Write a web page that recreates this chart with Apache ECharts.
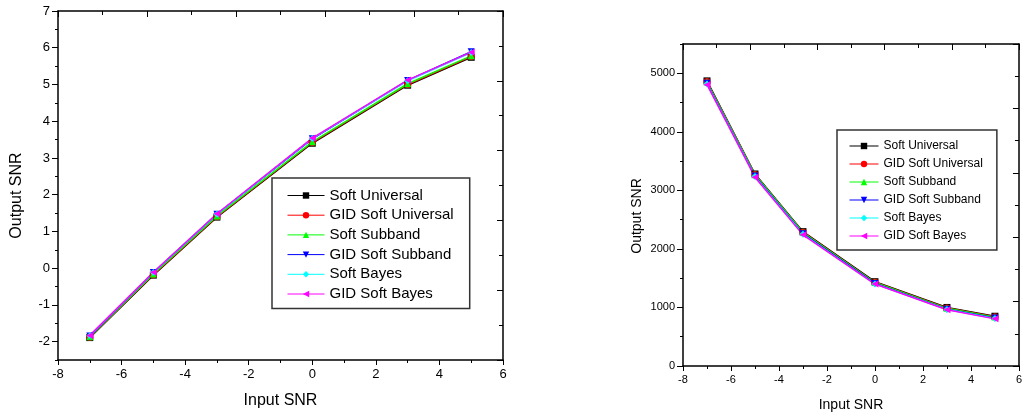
<!DOCTYPE html>
<html>
<head>
<meta charset="utf-8">
<title>Output SNR vs Input SNR</title>
<script src="https://cdn.jsdelivr.net/npm/echarts@6/dist/echarts.min.js"></script>
<style>
  html, body { margin: 0; padding: 0; background: #fff; }
  #chart { width: 1025px; height: 419px; }
</style>
</head>
<body>
<div id="chart"></div>
<script>
const inputSnr = [-7, -5, -3, 0, 3, 5]
const seriesNames = ['Soft Universal', 'GID Soft Universal', 'Soft Subband', 'GID Soft Subband', 'Soft Bayes', 'GID Soft Bayes']

// left plot (output SNR, dB)
const softUniversalL = [-1.89, -0.19, 1.39, 3.40, 4.98, 5.74]
const gidSoftUniversalL = [-1.88, -0.18, 1.40, 3.42, 5.00, 5.76]
const softSubbandL = [-1.87, -0.16, 1.42, 3.44, 5.02, 5.78]
const gidSoftSubbandL = [-1.85, -0.12, 1.47, 3.52, 5.11, 5.89]
const softBayesL = [-1.84, -0.12, 1.47, 3.53, 5.10, 5.87]
const gidSoftBayesL = [-1.83, -0.11, 1.48, 3.54, 5.12, 5.88]

// right plot (output SNR, linear)
const softUniversalR = [4870, 3280, 2295, 1440, 1000, 850]
const gidSoftUniversalR = [4860, 3270, 2285, 1430, 990, 840]
const softSubbandR = [4850, 3265, 2280, 1425, 985, 835]
const gidSoftSubbandR = [4830, 3245, 2260, 1410, 970, 820]
const softBayesR = [4815, 3235, 2250, 1400, 965, 810]
const gidSoftBayesR = [4805, 3225, 2240, 1400, 960, 805]

// tick labels
const leftYTicks = [-2, -1, 0, 1, 2, 3, 4, 5, 6, 7]
const leftYMinorTicks = [-2.5, -1.5, -0.5, 0.5, 1.5, 2.5, 3.5, 4.5, 5.5, 6.5]
const rightYTicks = [0, 1000, 2000, 3000, 4000, 5000]
const rightYMinorTicks = [500, 1500, 2500, 3500, 4500, 5500]

const leftData = [softUniversalL, gidSoftUniversalL, softSubbandL, gidSoftSubbandL, softBayesL, gidSoftBayesL]
const rightData = [softUniversalR, gidSoftUniversalR, softSubbandR, gidSoftSubbandR, softBayesR, gidSoftBayesR]

const colors = ['#000000', '#ff0000', '#00ff00', '#0000ff', '#00ffff', '#ff00ff']
const symbols = ['rect', 'circle', 'triangle', 'triangle', 'diamond', 'triangle']
const symbolRotates = [0, 0, 0, 180, 0, 90]

const FONT = '"Liberation Sans", Arial, sans-serif'
const axisLine = { show: true, onZero: false, lineStyle: { color: '#000', width: 1.5 } }
const tickLine = { color: '#000', width: 1 }
const plain = v => String(v)

function xAxes(grid, labelSize, nameSize, nameGap) {
  return [{
    gridIndex: grid, type: 'value', position: 'bottom',
    min: -8, max: 6, interval: 2,
    name: 'Input SNR', nameLocation: 'middle', nameGap: nameGap,
    nameTextStyle: { fontFamily: FONT, fontSize: nameSize, color: '#000' },
    axisLine: axisLine,
    axisTick: { inside: false, length: 5, lineStyle: tickLine },
    minorTick: { show: true, splitNumber: 2, length: 3, lineStyle: tickLine },
    axisLabel: { fontFamily: FONT, fontSize: labelSize, color: '#000', margin: 8, formatter: plain },
    splitLine: { show: false }
  }, {
    // mirror axis on top
    gridIndex: grid, type: 'value', position: 'top',
    min: 0, max: 10, interval: 2,
    axisLine: axisLine,
    axisTick: { inside: true, length: 6, lineStyle: tickLine },
    minorTick: { show: true, splitNumber: 2, length: 4, lineStyle: tickLine },
    axisLabel: { show: false },
    splitLine: { show: false }
  }]
}

function yAxes(grid, min, max, ticks, minorTicks, labelSize, nameSize, nameGap, namePad) {
  return [{
    gridIndex: grid, type: 'value', position: 'left',
    min: min, max: max,
    name: 'Output SNR', nameLocation: 'middle', nameGap: nameGap, nameRotate: 90,
    nameTextStyle: { fontFamily: FONT, fontSize: nameSize, color: '#000', padding: [0, namePad, 0, 0] },
    axisLine: axisLine,
    axisTick: { inside: false, length: 6, customValues: ticks, lineStyle: tickLine },
    axisLabel: { fontFamily: FONT, fontSize: labelSize, color: '#000', margin: 8, customValues: ticks, formatter: plain },
    splitLine: { show: false }
  }, {
    gridIndex: grid, type: 'value', position: 'left',
    min: min, max: max,
    axisLine: { show: false, onZero: false },
    axisTick: { inside: false, length: 3, customValues: minorTicks, lineStyle: tickLine },
    axisLabel: { show: false },
    splitLine: { show: false }
  }, {
    // mirror axis on the right
    gridIndex: grid, type: 'value', position: 'right',
    min: 0, max: 10, interval: 2,
    axisLine: axisLine,
    axisTick: { inside: true, length: 6, lineStyle: tickLine },
    minorTick: { show: true, splitNumber: 2, length: 4, lineStyle: tickLine },
    axisLabel: { show: false },
    splitLine: { show: false }
  }]
}

function makeSeries(data, xIdx, yIdx) {
  return data.map((vals, i) => ({
    name: seriesNames[i],
    type: 'line',
    xAxisIndex: xIdx,
    yAxisIndex: yIdx,
    data: inputSnr.map((x, k) => [x, vals[k]]),
    symbol: symbols[i],
    symbolRotate: symbolRotates[i],
    symbolSize: 7,
    showAllSymbol: true,
    color: colors[i],
    lineStyle: { color: colors[i], width: 1.5 },
    itemStyle: { color: colors[i] }
  }))
}

function makeLegend(left, top, itemWidth, itemGap, fontSize, padding) {
  return {
    orient: 'vertical', left: left, top: top,
    itemWidth: itemWidth, itemHeight: 8, itemGap: itemGap,
    padding: padding,
    borderColor: '#333', borderWidth: 1.5,
    selectedMode: false,
    lineStyle: { width: 1 },
    textStyle: { fontFamily: FONT, fontSize: fontSize, color: '#000' },
    data: seriesNames
  }
}

const chart = echarts.init(document.getElementById('chart'))
chart.setOption({
  animation: false,
  backgroundColor: '#fff',
  grid: [
    { left: 58, right: 522, top: 11, bottom: 59 },
    { left: 683, right: 4, top: 44, bottom: 53 }
  ],
  legend: [
    makeLegend(272, 178, 37, 4.7, 15, [10, 16, 7, 15]),
    makeLegend(837, 130, 29, 6, 12, [10, 14, 8, 12])
  ],
  xAxis: xAxes(0, 13, 16, 33).concat(xAxes(1, 11, 14, 32)),
  yAxis: yAxes(0, -2.5, 7, leftYTicks, leftYMinorTicks, 13, 16, 33, 20)
    .concat(yAxes(1, 0, 5500, rightYTicks, rightYMinorTicks, 11, 14, 39, 22)),
  series: makeSeries(leftData, 0, 0).concat(makeSeries(rightData, 2, 3))
})
</script>
</body>
</html>
